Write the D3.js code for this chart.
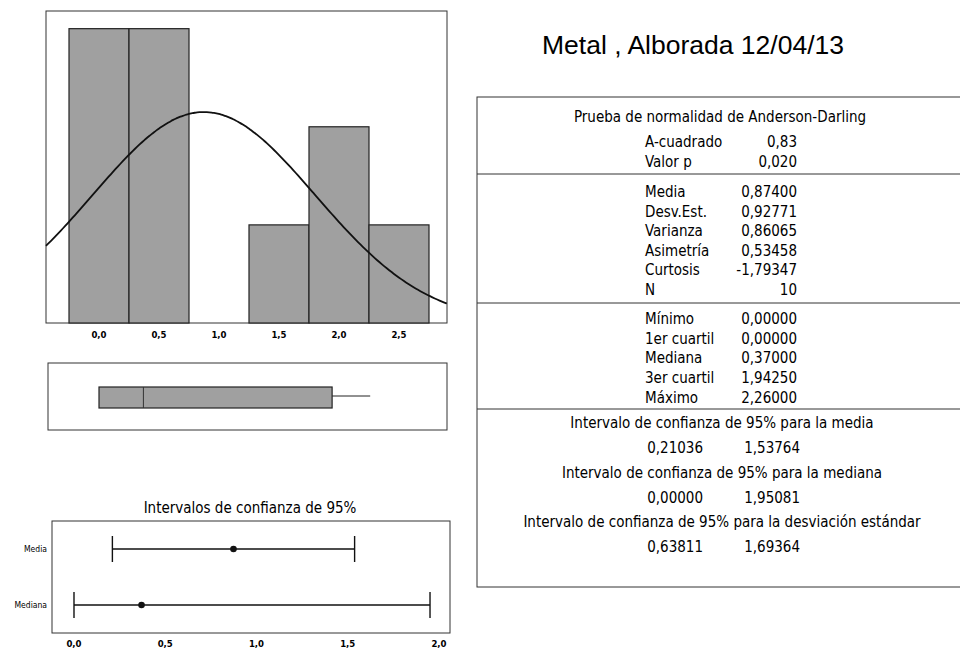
<!DOCTYPE html>
<html>
<head>
<meta charset="utf-8">
<script src="https://cdn.jsdelivr.net/npm/d3@7"></script>
<style>
  body { margin: 0; background: #fff; }
  svg text { font-family: "DejaVu Sans Condensed", Roboto, sans-serif; fill: #000; }
</style>
</head>
<body>
<svg id="chart" width="960" height="653"></svg>
<script>
// Histogram data (bin start, count)
const binStarts = [-0.25, 0.25, 0.75, 1.25, 1.75, 2.25];
const binCounts = [3, 3, 0, 1, 2, 1];
const binWidth = 0.5;
const histTicks = [0, 0.5, 1.0, 1.5, 2.0, 2.5];

// summary stats
const sampleMean = 0.874;
const sampleSd = 0.92771;
const sampleN = 10;

// box plot
const boxMin = 0.0;
const boxQ1 = 0.0;
const boxMedian = 0.37;
const boxQ3 = 1.9425;
const boxMax = 2.26;

// CI plot
const ciRows = ["Media", "Mediana"];
const ciCenters = [0.874, 0.37];
const ciLows = [0.21036, 0.0];
const ciHighs = [1.53764, 1.95081];
const ciTicks = [0, 0.5, 1.0, 1.5, 2.0];

// table text
const adLabels = ["A-cuadrado", "Valor p"];
const adValues = ["0,83", "0,020"];
const momentLabels = ["Media", "Desv.Est.", "Varianza", "Asimetría", "Curtosis", "N"];
const momentValues = ["0,87400", "0,92771", "0,86065", "0,53458", "-1,79347", "10"];
const quantLabels = ["Mínimo", "1er cuartil", "Mediana", "3er cuartil", "Máximo"];
const quantValues = ["0,00000", "0,00000", "0,37000", "1,94250", "2,26000"];
const intervalTitles = [
    "Intervalo de confianza de 95% para la media",
    "Intervalo de confianza de 95% para la mediana",
    "Intervalo de confianza de 95% para la desviación estándar"
];
const intervalValues = [["0,21036", "1,53764"], ["0,00000", "1,95081"], ["0,63811", "1,69364"]];

const svg = d3.select("#chart");
const fmt = v => d3.format(".1f")(v).replace(".", ",");
const frameColor = "#333";
const barFill = "#a0a0a0";

// ---------- histogram ----------
const xHist = d3.scaleLinear().domain([-0.4417, 2.9]).range([46, 447]);
const yHist = d3.scaleLinear().domain([0, 3.18]).range([323, 11]);

svg.append("rect")
    .attr("x", 46).attr("y", 11).attr("width", 401).attr("height", 312)
    .attr("fill", "none").attr("stroke", frameColor).attr("stroke-width", 1);

svg.append("g").selectAll("rect")
    .data(binStarts.map((s, i) => ({start: s, count: binCounts[i]})).filter(d => d.count > 0))
    .join("rect")
    .attr("x", d => xHist(d.start))
    .attr("y", d => yHist(d.count))
    .attr("width", d => xHist(d.start + binWidth) - xHist(d.start))
    .attr("height", d => yHist(0) - yHist(d.count))
    .attr("fill", barFill)
    .attr("stroke", "#222")
    .attr("stroke-width", 1.2);

// fitted normal curve
const curveX = d3.range(-0.4417, 2.9001, 0.02);
const normalLine = d3.line()
    .x(d => xHist(d))
    .y(d => {
        const z = (d - sampleMean) / sampleSd;
        const dens = Math.exp(-0.5 * z * z) / (sampleSd * Math.sqrt(2 * Math.PI));
        return yHist(dens * sampleN * binWidth);
    })
    .curve(d3.curveBasis);
svg.append("path")
    .datum(curveX)
    .attr("d", normalLine)
    .attr("fill", "none")
    .attr("stroke", "#111")
    .attr("stroke-width", 1.8);

svg.append("g").selectAll("text")
    .data(histTicks)
    .join("text")
    .attr("x", d => xHist(d))
    .attr("y", 338)
    .attr("text-anchor", "middle")
    .attr("font-size", 9.5)
    .attr("font-weight", "bold")
    .text(fmt);

// ---------- box plot ----------
svg.append("rect")
    .attr("x", 48).attr("y", 363).attr("width", 399).attr("height", 67)
    .attr("fill", "none").attr("stroke", frameColor).attr("stroke-width", 1);

const boxTop = 387, boxBot = 408, boxMid = 396;
svg.append("line")
    .attr("x1", xHist(boxQ3)).attr("x2", xHist(boxMax))
    .attr("y1", boxMid).attr("y2", boxMid)
    .attr("stroke", "#222").attr("stroke-width", 1);
svg.append("line")
    .attr("x1", xHist(boxMin)).attr("x2", xHist(boxQ1))
    .attr("y1", boxMid).attr("y2", boxMid)
    .attr("stroke", "#222").attr("stroke-width", 1);
svg.append("rect")
    .attr("x", xHist(boxQ1)).attr("y", boxTop)
    .attr("width", xHist(boxQ3) - xHist(boxQ1)).attr("height", boxBot - boxTop)
    .attr("fill", barFill).attr("stroke", "#222").attr("stroke-width", 1.2);
svg.append("line")
    .attr("x1", xHist(boxMedian)).attr("x2", xHist(boxMedian))
    .attr("y1", boxTop).attr("y2", boxBot)
    .attr("stroke", "#333").attr("stroke-width", 1);

// ---------- CI plot ----------
const xCI = d3.scaleLinear().domain([-0.1205, 2.0603]).range([52, 450]);
const yCI = d3.scalePoint().domain(ciRows).range([549, 605]);

svg.append("text")
    .attr("x", 250).attr("y", 513)
    .attr("text-anchor", "middle")
    .attr("font-size", 15)
    .text("Intervalos de confianza de 95%");

svg.append("rect")
    .attr("x", 52).attr("y", 521).attr("width", 398).attr("height", 112)
    .attr("fill", "none").attr("stroke", frameColor).attr("stroke-width", 1);

const ciData = ciRows.map((r, i) => ({row: r, c: ciCenters[i], lo: ciLows[i], hi: ciHighs[i]}));
const ciG = svg.append("g").selectAll("g").data(ciData).join("g");
ciG.append("line")
    .attr("x1", d => xCI(d.lo)).attr("x2", d => xCI(d.hi))
    .attr("y1", d => yCI(d.row)).attr("y2", d => yCI(d.row))
    .attr("stroke", "#111").attr("stroke-width", 1.4);
ciG.append("line")
    .attr("x1", d => xCI(d.lo)).attr("x2", d => xCI(d.lo))
    .attr("y1", d => yCI(d.row) - 13).attr("y2", d => yCI(d.row) + 13)
    .attr("stroke", "#111").attr("stroke-width", 1.4);
ciG.append("line")
    .attr("x1", d => xCI(d.hi)).attr("x2", d => xCI(d.hi))
    .attr("y1", d => yCI(d.row) - 13).attr("y2", d => yCI(d.row) + 13)
    .attr("stroke", "#111").attr("stroke-width", 1.4);
ciG.append("circle")
    .attr("cx", d => xCI(d.c)).attr("cy", d => yCI(d.row))
    .attr("r", 3.3).attr("fill", "#111");
ciG.append("text")
    .attr("x", 47).attr("y", d => yCI(d.row) + 3)
    .attr("text-anchor", "end")
    .attr("font-size", 8.5)
    .text(d => d.row);

svg.append("g").selectAll("text")
    .data(ciTicks)
    .join("text")
    .attr("x", d => xCI(d))
    .attr("y", 647)
    .attr("text-anchor", "middle")
    .attr("font-size", 9.5)
    .attr("font-weight", "bold")
    .text(fmt);

// ---------- title ----------
svg.append("text")
    .attr("x", 542).attr("y", 54)
    .attr("font-size", 26.5)
    .style("font-family", "'Liberation Sans', Arial, sans-serif")
    .text("Metal , Alborada 12/04/13");

// ---------- stats table ----------
const tbl = svg.append("g");
tbl.append("rect")
    .attr("x", 477).attr("y", 97).attr("width", 490).attr("height", 490)
    .attr("fill", "none").attr("stroke", frameColor).attr("stroke-width", 1);
[174, 303, 409].forEach(y => {
    tbl.append("line").attr("x1", 477).attr("x2", 960).attr("y1", y).attr("y2", y)
        .attr("stroke", frameColor).attr("stroke-width", 1);
});

const labelX = 645, valueX = 797, fs = 15;
tbl.append("text").attr("x", 720).attr("y", 122).attr("text-anchor", "middle")
    .attr("font-size", fs).text("Prueba de normalidad de Anderson-Darling");

function statRows(labels, values, y0, step) {
    labels.forEach((l, i) => {
        tbl.append("text").attr("x", labelX).attr("y", y0 + i * step)
            .attr("font-size", fs).text(l);
        tbl.append("text").attr("x", valueX).attr("y", y0 + i * step)
            .attr("text-anchor", "end").attr("font-size", fs).text(values[i]);
    });
}
statRows(adLabels, adValues, 147, 20);
statRows(momentLabels, momentValues, 197, 19.6);
statRows(quantLabels, quantValues, 324, 19.7);

intervalTitles.forEach((t, i) => {
    const y = 428 + i * 49.5;
    tbl.append("text").attr("x", 722).attr("y", y).attr("text-anchor", "middle")
        .attr("font-size", fs).text(t);
    tbl.append("text").attr("x", 703).attr("y", y + 25).attr("text-anchor", "end")
        .attr("font-size", fs).text(intervalValues[i][0]);
    tbl.append("text").attr("x", 800).attr("y", y + 25).attr("text-anchor", "end")
        .attr("font-size", fs).text(intervalValues[i][1]);
});
</script>
</body>
</html>
